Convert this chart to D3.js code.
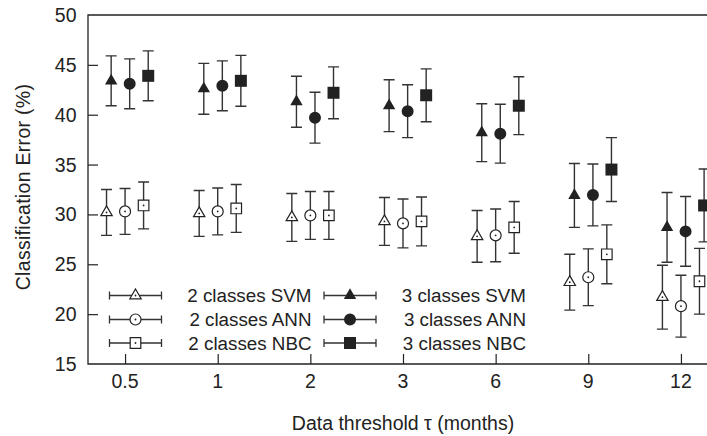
<!DOCTYPE html>
<html>
<head>
<meta charset="utf-8">
<script src="https://cdn.jsdelivr.net/npm/d3@7"></script>
<style>
  body { margin: 0; background: #fff; }
  svg { display: block; }
  text { font-family: "Liberation Sans", Arial, Helvetica, sans-serif; fill: #222; }
</style>
</head>
<body>
<div id="chart"></div>
<script>
// thresholds (months) on the x axis
var categories = ["0.5", "1", "2", "3", "6", "9", "12"];
var yTicks = [15, 20, 25, 30, 35, 40, 45, 50];

// 2 classes
var svm2 = [30.2, 30.1, 29.7, 29.3, 27.8, 23.2, 21.7];
var svm2Err = [2.3, 2.3, 2.4, 2.4, 2.6, 2.8, 3.2];
var ann2 = [30.3, 30.3, 29.9, 29.1, 27.9, 23.7, 20.8];
var ann2Err = [2.3, 2.35, 2.4, 2.45, 2.65, 2.85, 3.1];
var nbc2 = [30.9, 30.6, 29.9, 29.3, 28.7, 26.0, 23.3];
var nbc2Err = [2.35, 2.4, 2.4, 2.45, 2.6, 2.95, 3.3];

// 3 classes
var svm3 = [43.4, 42.6, 41.3, 40.9, 38.2, 31.9, 28.7];
var svm3Err = [2.5, 2.55, 2.55, 2.6, 2.9, 3.2, 3.5];
var ann3 = [43.1, 42.9, 39.7, 40.35, 38.1, 31.95, 28.3];
var ann3Err = [2.5, 2.5, 2.55, 2.65, 2.95, 3.1, 3.5];
var nbc3 = [43.9, 43.4, 42.2, 41.95, 40.9, 34.5, 30.9];
var nbc3Err = [2.5, 2.55, 2.6, 2.65, 2.9, 3.2, 3.65];

var series = [
  {name: "2 classes SVM", values: svm2, err: svm2Err, shape: "triangle", filled: false, offset: -0.2},
  {name: "2 classes ANN", values: ann2, err: ann2Err, shape: "circle", filled: false, offset: 0},
  {name: "2 classes NBC", values: nbc2, err: nbc2Err, shape: "square", filled: false, offset: 0.2},
  {name: "3 classes SVM", values: svm3, err: svm3Err, shape: "triangle", filled: true, offset: -0.15},
  {name: "3 classes ANN", values: ann3, err: ann3Err, shape: "circle", filled: true, offset: 0.05},
  {name: "3 classes NBC", values: nbc3, err: nbc3Err, shape: "square", filled: true, offset: 0.25}
];

var width = 707, height = 436;
var margin = {top: 15, left: 88, bottom: 72};
var ink = "#222";

var svg = d3.select("#chart").append("svg")
    .attr("width", width)
    .attr("height", height);

// the plot is cut off on the right, so the range runs past the svg
var x = d3.scaleLinear().domain([-0.4, 6.4]).range([margin.left, 718]);
var y = d3.scaleLinear().domain([15, 50]).range([height - margin.bottom, margin.top]);

var symbols = {triangle: d3.symbolTriangle, circle: d3.symbolCircle, square: d3.symbolSquare};
var sizes = {
  filled: {triangle: 66, circle: 113, square: 144},
  open: {triangle: 56, circle: 95, square: 112}
};

// frame: left, top and bottom lines
var frame = svg.append("g").attr("stroke", ink).attr("stroke-width", 1.3).attr("fill", "none");
frame.append("path")
  .attr("d", "M" + (width + 5) + "," + y(50) + "H" + x(-0.4) + "V" + y(15) + "H" + (width + 5));

// y axis, ticks pointing inward
var yAxis = svg.append("g")
    .attr("transform", "translate(" + x(-0.4) + ",0)")
    .call(d3.axisRight(y).tickValues(yTicks).tickSize(10).tickFormat(""));
yAxis.select(".domain").remove();
yAxis.selectAll("line").attr("stroke", ink).attr("stroke-width", 1.2);
yAxis.selectAll(".tick").filter(function(d) { return d === 15 || d === 50; }).select("line").remove();

svg.append("g").selectAll("text")
  .data(yTicks)
  .enter().append("text")
    .attr("x", 76.5)
    .attr("y", function(d) { return y(d) + 7; })
    .attr("text-anchor", "end")
    .style("font-size", "19.5px")
    .text(function(d) { return d; });

// x axis, ticks pointing inward
var xAxis = svg.append("g")
    .attr("transform", "translate(0," + y(15) + ")")
    .call(d3.axisTop(x).tickValues(d3.range(categories.length)).tickSize(10).tickFormat(""));
xAxis.select(".domain").remove();
xAxis.selectAll("line").attr("stroke", ink).attr("stroke-width", 1.2);

svg.append("g").selectAll("text")
  .data(categories)
  .enter().append("text")
    .attr("x", function(d, i) { return x(i); })
    .attr("y", y(15) + 24)
    .attr("text-anchor", "middle")
    .style("font-size", "19.5px")
    .text(function(d) { return d; });

// axis titles
svg.append("text")
  .attr("x", x(3))
  .attr("y", 430)
  .attr("text-anchor", "middle")
  .style("font-size", "19.5px")
  .text("Data threshold \u03c4 (months)");

svg.append("text")
  .attr("transform", "translate(30," + 187 + ") rotate(-90)")
  .attr("text-anchor", "middle")
  .style("font-size", "19.5px")
  .style("letter-spacing", "0.3px")
  .text("Classification Error (%)");

// draws one marker (with a dot in the middle of the open ones)
var drawMarker = function(g, s) {
  var k = s.filled ? "filled" : "open";
  g.append("path")
    .attr("d", d3.symbol().type(symbols[s.shape]).size(sizes[k][s.shape])())
    .attr("fill", s.filled ? ink : "#fff")
    .attr("stroke", ink)
    .attr("stroke-width", s.filled ? 0 : 1.2);
  if (!s.filled) {
    g.append("circle").attr("r", 0.9).attr("fill", ink);
  }
};

// error bars and markers
var capW = 5.5;
series.forEach(function(s) {
  var pts = svg.append("g").selectAll("g")
    .data(s.values.map(function(v, i) { return {i: i, v: v, e: s.err[i]}; }))
    .enter().append("g")
      .attr("transform", function(d) { return "translate(" + x(d.i + s.offset) + ",0)"; });

  pts.append("path")
    .attr("fill", "none")
    .attr("stroke", "#333")
    .attr("stroke-width", 1.4)
    .attr("d", function(d) {
      var y0 = y(d.v - d.e), y1 = y(d.v + d.e);
      return "M0," + y0 + "V" + y1
        + "M" + (-capW) + "," + y0 + "H" + capW
        + "M" + (-capW) + "," + y1 + "H" + capW;
    });

  pts.each(function(d) {
    var m = d3.select(this).append("g").attr("transform", "translate(0," + y(d.v) + ")");
    drawMarker(m, s);
  });
});

// legend: two columns of three rows
var legendRows = [295.5, 319.5, 343];
var legendCols = [{x0: 109.5, x1: 161.5, textX: 311.5}, {x0: 324, x1: 376, textX: 526}];

series.forEach(function(s, k) {
  var col = legendCols[Math.floor(k / 3)];
  var ly = legendRows[k % 3];
  var g = svg.append("g");
  g.append("path")
    .attr("fill", "none")
    .attr("stroke", "#333")
    .attr("stroke-width", 1.3)
    .attr("d", "M" + col.x0 + "," + ly + "H" + col.x1
      + "M" + col.x0 + "," + (ly - 4) + "V" + (ly + 4)
      + "M" + col.x1 + "," + (ly - 4) + "V" + (ly + 4));
  var m = g.append("g").attr("transform", "translate(" + ((col.x0 + col.x1) / 2) + "," + ly + ")");
  drawMarker(m, s);
  g.append("text")
    .attr("x", col.textX)
    .attr("y", ly + 6.5)
    .attr("text-anchor", "end")
    .style("font-size", "18.8px")
    .text(s.name);
});
</script>
</body>
</html>
